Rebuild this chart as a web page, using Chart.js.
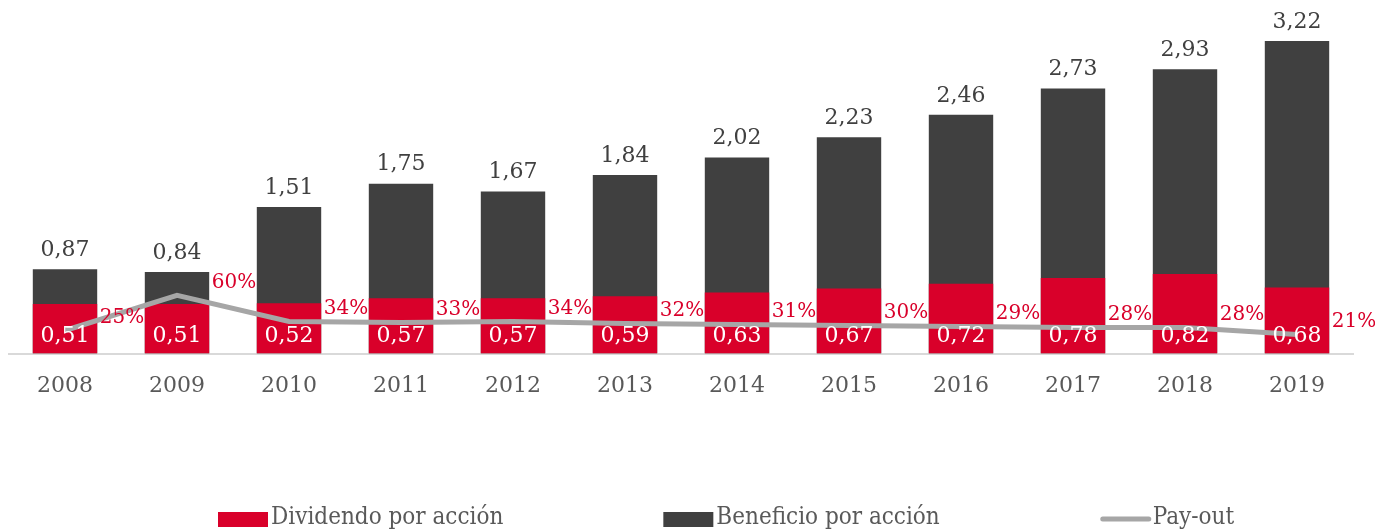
<!DOCTYPE html>
<html>
<head>
<meta charset="utf-8">
<script src="https://cdn.jsdelivr.net/npm/chart.js@4/dist/chart.umd.min.js"></script>
<style>
  html, body { margin: 0; padding: 0; background: #fff; }
  #wrap { width: 1375px; height: 531px; }
</style>
</head>
<body>
<div id="wrap"><canvas id="epsChart"></canvas></div>
<script>
// Data
var years = ['2008', '2009', '2010', '2011', '2012', '2013', '2014', '2015', '2016', '2017', '2018', '2019'];
var dividendo = [0.51, 0.51, 0.52, 0.57, 0.57, 0.59, 0.63, 0.67, 0.72, 0.78, 0.82, 0.68];
var beneficio = [0.87, 0.84, 1.51, 1.75, 1.67, 1.84, 2.02, 2.23, 2.46, 2.73, 2.93, 3.22];
var payout = [25, 60, 34, 33, 34, 32, 31, 30, 29, 28, 28, 21];

var RED = '#d9002a';
var DARK = '#404040';
var GREY = '#a6a6a6';
var SERIF = "'DejaVu Serif', serif";
var SERIF_COND = "'DejaVu Serif Condensed', 'DejaVu Serif', serif";

function fmt(v) {
  return v.toFixed(2).replace('.', ',');
}

// Draws the value labels on top of the bars and line
var valueLabels = {
  id: 'valueLabels',
  afterDatasetsDraw: function(chart) {
    var ctx = chart.ctx;
    var base = chart.scales.y.getPixelForValue(0);
    ctx.save();
    ctx.textAlign = 'center';

    // beneficio above the bars
    ctx.font = '22px ' + SERIF;
    ctx.fillStyle = DARK;
    ctx.textBaseline = 'bottom';
    chart.getDatasetMeta(1).data.forEach(function(bar, i) {
      ctx.fillText(fmt(beneficio[i]), bar.x, bar.y - 8);
    });

    // dividendo inside the red bars
    ctx.fillStyle = '#ffffff';
    ctx.textBaseline = 'middle';
    chart.getDatasetMeta(0).data.forEach(function(bar, i) {
      ctx.fillText(fmt(dividendo[i]), bar.x, base - 17);
    });

    // pay-out beside each point
    ctx.font = '20px ' + SERIF;
    ctx.fillStyle = RED;
    chart.getDatasetMeta(2).data.forEach(function(pt, i) {
      ctx.fillText(payout[i] + '%', pt.x + 57, pt.y - 13);
    });
    ctx.restore();
  }
};

// Legend drawn by hand: the original spreads the three items far apart
var bottomLegend = {
  id: 'bottomLegend',
  afterDraw: function(chart) {
    var ctx = chart.ctx;
    var y = chart.height - 13;
    var x = chart.chartArea.left + 209;
    ctx.save();
    ctx.font = '24px ' + SERIF_COND;
    ctx.textBaseline = 'middle';
    ctx.textAlign = 'left';
    chart.data.datasets.forEach(function(ds) {
      if (ds.type === 'line') {
        ctx.strokeStyle = ds.borderColor;
        ctx.lineWidth = 5;
        ctx.lineCap = 'round';
        ctx.beginPath();
        ctx.moveTo(x + 3, y + 1);
        ctx.lineTo(x + 49, y + 1);
        ctx.stroke();
      } else {
        ctx.fillStyle = ds.backgroundColor;
        ctx.fillRect(x, y - 6, 50, 15);
      }
      ctx.fillStyle = '#595959';
      ctx.fillText(ds.label, x + 53, y);
      x += 53 + ctx.measureText(ds.label).width + 160;
    });
    ctx.restore();
  }
};

var ctx = document.getElementById('epsChart').getContext('2d');

var myChart = new Chart(ctx, {
  type: 'bar',
  data: {
    labels: years,
    datasets: [{
      label: 'Dividendo por acción',
      data: dividendo,
      backgroundColor: RED,
      barPercentage: 0.575,
      categoryPercentage: 1,
      order: 1,
      yAxisID: 'y'
    }, {
      label: 'Beneficio por acción',
      data: beneficio,
      backgroundColor: DARK,
      barPercentage: 0.575,
      categoryPercentage: 1,
      order: 2,
      yAxisID: 'y'
    }, {
      type: 'line',
      label: 'Pay-out',
      data: payout,
      borderColor: GREY,
      backgroundColor: GREY,
      borderWidth: 5,
      pointRadius: 0,
      tension: 0,
      order: 0,
      yAxisID: 'y2'
    }]
  },
  options: {
    responsive: true,
    maintainAspectRatio: false,
    animation: false,
    layout: {
      padding: { left: 9, right: 22, top: 10, bottom: 121 }
    },
    scales: {
      x: {
        stacked: true,
        grid: { display: false },
        border: { display: true, color: '#d9d9d9', width: 2 },
        ticks: {
          color: '#595959',
          font: { family: SERIF, size: 22 },
          padding: 11
        }
      },
      y: {
        display: false,
        min: 0,
        max: 3.54
      },
      y2: {
        display: false,
        position: 'right',
        min: 2,
        max: 344
      }
    },
    plugins: {
      tooltip: { enabled: false },
      legend: { display: false }
    }
  },
  plugins: [valueLabels, bottomLegend]
});
</script>
</body>
</html>
